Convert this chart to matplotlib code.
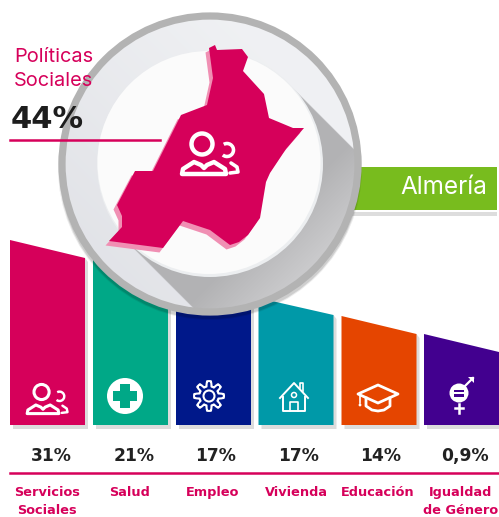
import numpy as np
import matplotlib
matplotlib.use("Agg")
import matplotlib.pyplot as plt
from matplotlib.patches import Circle, Polygon, Rectangle, Arc

# data
categories = [["Servicios", "Sociales"], ["Salud"], ["Empleo"], ["Vivienda"], ["Educación"], ["Igualdad", "de Género"]]
percent_labels = ["31%", "21%", "17%", "17%", "14%", "0,9%"]
bar_left_heights = [185, 167, 147, 127, 109, 91]
bar_right_heights = [167, 149, 129, 110, 91, 73]
bar_colors = ["#d6005a", "#00a887", "#00188a", "#0099a8", "#e54500", "#42008f"]
region = "Almería"
main_label = ["Políticas", "Sociales"]
main_value = "44%"

map_outline = [(209, 48), (215, 45), (217, 50), (242, 49), (248, 57), (243, 71), (264, 94), (269, 118),
               (293, 128), (304, 128), (286, 149), (270, 173), (266, 182), (260, 218), (248, 235),
               (239, 242), (230, 245), (210, 230), (183, 221), (163, 248), (109, 241), (122, 227),
               (122, 216), (117, 205), (135, 171), (153, 171), (181, 115), (207, 105), (213, 78)]

PINK = "#d6005a"
FONT = "Inter"
BOLD = "DejaVu Sans"
bar_x = [10, 93, 176, 258.5, 341.5, 424]
bar_w = 75
base_y = 425
label_x = [47, 130, 213, 296, 378, 461]
pct_x = [51, 134, 216, 299, 381, 465]
cx, cy = 210, 164

fig = plt.figure(figsize=(4.99, 5.17), dpi=100)
ax = fig.add_axes([0, 0, 1, 1])
ax.set_xlim(0, 499)
ax.set_ylim(517, 0)
ax.axis("off")


def person(x, y, s, lw):
    ax.add_patch(Circle((x - 2 * s, y), 10.5 * s, fc="none", ec="white", lw=lw, zorder=12))
    ax.add_patch(Arc((x + 23 * s, y + 6 * s), 13 * s, 13 * s, theta1=-120, theta2=130, ec="white", lw=lw * 0.8, zorder=12))
    body = np.array([(-22, 30), (-21, 25), (-10, 18), (-3, 21), (0, 24), (3, 21), (10, 18), (21, 25), (22, 30)]) * s
    ax.add_patch(Polygon(body + [x, y], closed=True, fc="none", ec="white", lw=lw, joinstyle="round", zorder=12))
    tail = np.array([(27, 19), (33, 23), (34, 28), (26, 29)]) * s
    ax.plot(*(tail + [x, y]).T, color="white", lw=lw * 0.8, zorder=12, solid_capstyle="round")


# bars
for i in range(6):
    x0, x1 = bar_x[i], bar_x[i] + bar_w
    lt, rt = base_y - bar_left_heights[i], base_y - bar_right_heights[i]
    ax.add_patch(Polygon([(x0 + 3, base_y + 4), (x1 + 3, base_y + 4), (x1 + 3, rt + 4), (x1, rt), (x0 + 3, base_y)],
                         closed=True, fc="#dcdcdc", ec="none", zorder=1))
    ax.add_patch(Polygon([(x0, base_y), (x1, base_y), (x1, rt), (x0, lt)], closed=True, fc=bar_colors[i], ec="none", zorder=2))
    ax.text(pct_x[i], 456, percent_labels[i], ha="center", va="center", fontsize=12.3, fontweight="bold",
            family=BOLD, color="#222222", zorder=20)
    for j, line in enumerate(categories[i]):
        ax.text(label_x[i], 492.5 + j * 18.5, line, ha="center", va="center", fontsize=9.3, fontweight="bold",
                family=BOLD, color=PINK, zorder=20)
ax.plot([10, 499], [473, 473], color=PINK, lw=1.8, zorder=3)

# region ribbon
ax.add_patch(Rectangle((352, 212), 145, 4, fc="#dddddd", ec="none", zorder=3))
ax.add_patch(Rectangle((352, 167), 145, 43, fc="#78bc1e", ec="none", zorder=4))
ax.text(444, 187, region, ha="center", va="center", fontsize=17.5, family=FONT, color="white", zorder=5)

# lens: soft shadow, ring, long shadow, glass
for r, a in zip([152, 151], [0.08, 0.12]):
    ax.add_patch(Circle((cx, cy + 4), r, fc="black", alpha=a, ec="none", zorder=5))
ax.add_patch(Circle((cx, cy), 148, fc="#e8e9ec", ec="none", zorder=6))

yy, xx = np.mgrid[0:517, 0:499]
face = (xx - yy + 280.0) / 500.0
light = np.clip(face, 0, 1)[..., None]
rgba = np.zeros((517, 499, 4))
rgba[..., :3] = (1 - light) * np.array([0.87, 0.875, 0.895]) + light * np.array([0.94, 0.945, 0.955])
rgba[..., 3] = ((xx - cx) ** 2 + (yy - cy) ** 2 < 148 ** 2) * 1.0
ax.imshow(rgba, extent=(-0.5, 498.5, 516.5, -0.5), zorder=6.1, aspect="auto", interpolation="bilinear")

# long shadow running down-right from the map
along = ((xx - cx) + (yy - cy)) / 2.0
tone = np.clip(0.7 + (along - 60) / 90 * 0.2, 0.7, 0.92)[..., None]
shade = np.zeros((517, 499, 4))
shade[..., :3] = tone * np.array([1.0, 1.0, 1.01])
band = (yy - xx < 116) & (yy - xx > -204) & (xx + yy > 380)
shade[..., 3] = (band & ((xx - cx) ** 2 + (yy - cy) ** 2 < 148 ** 2)) * 1.0
ax.imshow(shade, extent=(-0.5, 498.5, 516.5, -0.5), zorder=6.2, aspect="auto", interpolation="bilinear")
ax.set_xlim(0, 499)
ax.set_ylim(517, 0)

ax.add_patch(Circle((cx, cy), 148, fc="none", ec="#b3b3b3", lw=5.2, zorder=6.5))
ax.add_patch(Circle((cx, cy), 113, fc="#eceef0", ec="none", zorder=7))
ax.add_patch(Circle((cx - 1, cy - 1.5), 111.5, fc="#fbfbfb", ec="none", zorder=7.1))

# map
outline = np.array(map_outline, dtype=float)
ax.add_patch(Polygon(outline + [-3.5, 4.5], closed=True, fc="#f08fb3", ec="none", zorder=8))
ax.add_patch(Polygon(outline, closed=True, fc=PINK, ec="none", zorder=9))
person(204, 144, 1.0, 3.2)

# left header
ax.text(14, 57, main_label[0], ha="left", va="center", fontsize=14.4, family=FONT, color=PINK, zorder=20)
ax.text(14, 81, main_label[1], ha="left", va="center", fontsize=14.4, family=FONT, color=PINK, zorder=20)
ax.text(11, 120, main_value, ha="left", va="center", fontsize=22, family=BOLD, fontweight="bold", color="#1d1d1d", zorder=20)
ax.plot([10, 160], [140, 140], color=PINK, lw=1.8, zorder=20)

# bar icons
person(43, 392, 0.72, 2.2)

ax.add_patch(Circle((125, 396), 18, fc="white", ec="none", zorder=12))
ax.add_patch(Rectangle((113, 391), 24, 10, fc="#00a887", ec="none", zorder=13))
ax.add_patch(Rectangle((120, 384), 10, 24, fc="#00a887", ec="none", zorder=13))

ang = np.linspace(0, 2 * np.pi, 97)
gear_r = 12.3 + 2.6 * np.clip(3 * np.cos(8 * ang), -1, 1)
ax.plot(209 + gear_r * np.cos(ang), 396 + gear_r * np.sin(ang), color="white", lw=1.5, zorder=12)
ax.add_patch(Circle((209, 396), 5.5, fc="none", ec="white", lw=1.5, zorder=12))

hx, hy = 294, 397
ax.plot(np.array([-14, 0, 14]) + hx, np.array([1, -14, 1]) + hy, color="white", lw=1.4, zorder=12)
ax.plot(np.array([-11, -11, 11, 11]) + hx, np.array([0, 14, 14, 0]) + hy, color="white", lw=1.4, zorder=12)
ax.plot(np.array([-4, -4, 4, 4]) + hx, np.array([14, 5, 5, 14]) + hy, color="white", lw=1.2, zorder=12)
ax.plot(np.array([6, 6, 9, 9]) + hx, np.array([-9, -14, -14, -6]) + hy, color="white", lw=1.2, zorder=12)
ax.add_patch(Circle((hx, hy - 2), 2.5, fc="none", ec="white", lw=1.1, zorder=12))

capx, capy = 378, 395
ax.add_patch(Polygon(np.array([(-20, -1), (0, -10), (20, -1), (0, 8)]) + [capx, capy], closed=True, fc="none", ec="white", lw=2, joinstyle="round", zorder=12))
ax.plot(np.array([-12, -12, -6, 0, 6, 12, 12]) + capx, np.array([3, 11, 15, 16, 15, 11, 3]) + capy, color="white", lw=2, zorder=12)
ax.plot([capx - 18, capx - 18], [capy, capy + 8], color="white", lw=1.2, zorder=12)
ax.add_patch(Circle((capx - 18, capy + 10), 1.4, fc="white", ec="none", zorder=12))

gx, gy = 459, 393
ax.add_patch(Circle((gx, gy), 9.5, fc="white", ec="none", zorder=12))
ax.add_patch(Rectangle((gx - 5, gy - 3.5), 10, 2.2, fc="#42008f", ec="none", zorder=13))
ax.add_patch(Rectangle((gx - 5, gy + 1.3), 10, 2.2, fc="#42008f", ec="none", zorder=13))
ax.plot([gx + 6, gx + 14], [gy - 7, gy - 15], color="white", lw=1.6, zorder=12)
ax.add_patch(Polygon([(gx + 9, gy - 16.5), (gx + 15.5, gy - 16.5), (gx + 15.5, gy - 10)], closed=True, fc="white", ec="none", zorder=12))
ax.plot([gx, gx], [gy + 11, gy + 20], color="white", lw=1.8, zorder=12)
ax.plot([gx - 4, gx + 4], [gy + 15, gy + 15], color="white", lw=1.8, zorder=12)

fig.savefig("out.png", dpi=100)
